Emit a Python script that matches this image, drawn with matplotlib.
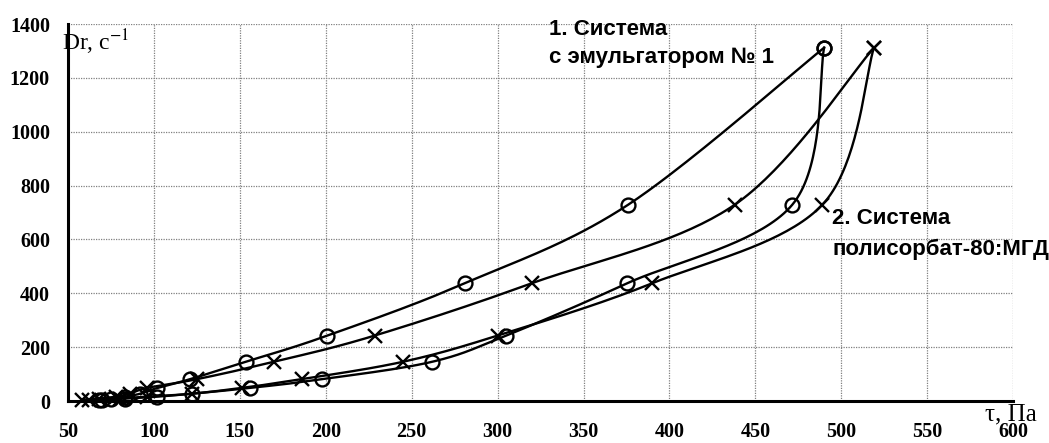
import numpy as np
import matplotlib
matplotlib.use("Agg")
import matplotlib.pyplot as plt

# shear rate levels, 1/s
dr = [1312, 729, 437.4, 243, 145.8, 81, 48.6, 27, 16.2, 9, 5.4]

# shear stress, Pa  (system 1 - circles, system 2 - crosses)
tau1_up = [490, 376, 281, 201, 153.5, 121, 102, 92, 83, 75, 68]
tau1_down = [490, 471.5, 375.5, 305, 262, 198, 156, 122, 102, 83, 70]
tau2_up = [519, 438, 320, 228.5, 170, 125, 96, 86, 78, 68, 62]
tau2_down = [519, 489, 390, 300, 245, 186, 151, 122, 96, 80, 58]

x_ticks = list(range(50, 601, 50))
y_ticks = list(range(0, 1401, 200))

plt.rcParams['mathtext.fontset'] = 'stix'

fig = plt.figure(figsize=(10.49, 4.43), dpi=100)
ax = fig.add_axes([0.0648, 0.0948, 0.901, 0.851])
ax.set_xlim(50, 600)
ax.set_ylim(0, 1400)

# scale to screen units so the smoothing is done like in a spreadsheet chart
SX = 945 / 550.0
SY = 377 / 1400.0


def smooth(xs, ys, n=40):
    p = np.column_stack([(np.array(xs) - 50) * SX, np.array(ys) * SY])
    p = np.vstack([p[0], p, p[-1]])
    out = []
    t = np.linspace(0, 1, n)[:, None]
    for i in range(1, len(p) - 2):
        b0 = p[i]
        b1 = p[i] + (p[i + 1] - p[i - 1]) / 6
        b2 = p[i + 1] - (p[i + 2] - p[i]) / 6
        b3 = p[i + 1]
        seg = ((1 - t) ** 3) * b0 + 3 * ((1 - t) ** 2) * t * b1 + 3 * (1 - t) * t ** 2 * b2 + t ** 3 * b3
        out.append(seg)
    out = np.vstack(out)
    return out[:, 0] / SX + 50, out[:, 1] / SY


for tau, mk in [(tau1_up, 'o'), (tau1_down, 'o'), (tau2_up, 'x'), (tau2_down, 'x')]:
    sx, sy = smooth(tau, dr)
    ax.plot(sx, sy, color='black', lw=1.7, zorder=3)
    ax.plot(tau, dr, linestyle='none', marker=mk, markersize=10, mew=1.7,
            markerfacecolor='none', markeredgecolor='black', zorder=4, clip_on=False)

ax.set_xticks(x_ticks)
ax.set_yticks(y_ticks)
ax.grid(True, color='#808080', linestyle=(0, (1, 1)), lw=0.9)
ax.tick_params(length=0)
ax.tick_params(axis='x', pad=15)
ax.tick_params(axis='y', pad=13)
for lab in ax.get_xticklabels() + ax.get_yticklabels():
    lab.set_fontfamily('Liberation Serif')
    lab.set_fontweight('bold')
    lab.set_fontsize(14.5)

for s in ['top', 'right']:
    ax.spines[s].set_visible(False)
for s in ['left', 'bottom']:
    ax.spines[s].set_linewidth(2.2)

ax.text(-0.006, 0.952, 'Dr, с$^{-1}$', transform=ax.transAxes, ha='left', va='center',
        fontsize=17, fontfamily='Liberation Serif')
ax.text(0.998, -0.035, 'τ, Па', transform=ax.transAxes, ha='center', va='center',
        fontsize=18, fontfamily='Liberation Serif', clip_on=False)

ann = dict(fontsize=16, fontweight='bold', fontfamily='Liberation Sans', ha='left', va='center')
ax.text(329.7, 1378, '1. Система', **ann)
ax.text(329.7, 1274, 'с эмульгатором № 1', **ann)
ax.text(494.8, 676, '2. Система', **ann)
ax.text(494.8, 564, 'полисорбат-80:МГД', **ann)

fig.savefig('out.png', dpi=100)
